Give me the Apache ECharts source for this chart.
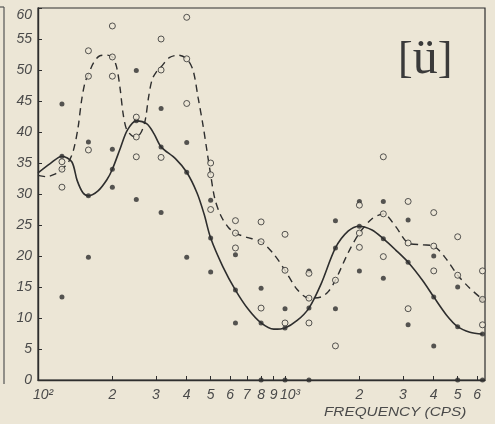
<!DOCTYPE html>
<html><head><meta charset="utf-8">
<script src="https://cdn.jsdelivr.net/npm/echarts@6/dist/echarts.min.js"></script>
<style>html,body{margin:0;padding:0;background:#ece6d6}#c{width:495px;height:424px}</style>
</head><body><div id="c"></div>
<script>
// x tick positions (Hz) and their printed labels
const tickFreqs = [100,200,300,400,500,600,700,800,900,1000,2000,3000,4000,5000,6000];
const tickLabels = ['10²','2','3','4','5','6','7','8','9','10³','2','3','4','5','6'];

// solid curve (through the filled-dot medians)
const solidCurve = [[100,33.4],[112,34.9],[125,36.1],[137,35.2],[144,32.2],[152,30.2],[160,29.7],[175,30.5],[190,32.3],[200,34.0],[215,37.3],[230,40.3],[250,41.8],[276,41.3],[295,39.7],[315,37.6],[360,35.7],[400,33.5],[440,30.2],[470,26.8],[500,22.9],[560,18.3],[630,14.5],[710,11.4],[800,9.2],[900,8.2],[1000,8.4],[1120,9.6],[1250,11.6],[1400,15.5],[1600,21.3],[1800,24.0],[2000,24.8],[2250,24.2],[2500,22.8],[2800,21.0],[3150,19.0],[3600,16.1],[4000,13.4],[4500,10.5],[5000,8.6],[5600,7.7],[6300,7.4]];

// dashed curve (through the open-circle medians)
const dashedCurve = [[100,33.0],[108,32.8],[117,33.2],[125,34.0],[133,35.2],[139,37.0],[145,40.5],[150,45.0],[155,48.0],[160,49.3],[168,51.2],[178,52.3],[190,52.4],[200,52.1],[208,50.5],[215,47.0],[221,43.0],[228,40.5],[240,39.4],[250,39.2],[262,40.0],[272,42.0],[280,45.5],[290,48.5],[305,50.0],[315,50.5],[340,52.0],[370,52.4],[400,51.8],[424,50.0],[445,45.5],[466,41.0],[485,36.5],[500,33.1],[520,29.2],[550,26.5],[590,24.6],[630,23.7],[700,23.0],[800,22.3],[900,20.3],[1000,17.7],[1120,14.6],[1250,13.2],[1400,13.4],[1500,14.3],[1600,16.1],[1800,20.5],[2000,23.7],[2250,26.0],[2500,26.8],[2800,24.8],[3150,22.1],[3600,21.8],[4000,21.6],[4500,19.5],[5000,16.9],[5600,14.8],[6300,13.0]];

// filled dots (individual measurements)
const filledDots = [
 [125,44.5],[125,36.1],[125,13.4],
 [160,38.4],[160,29.7],[160,19.8],
 [200,37.2],[200,34.0],[200,31.1],
 [250,49.9],[250,41.8],[250,29.1],
 [315,43.8],[315,37.6],[315,27.0],
 [400,38.3],[400,33.5],[400,19.8],
 [500,29.0],[500,22.9],[500,17.4],
 [630,20.2],[630,14.5],[630,9.2],
 [800,14.8],[800,9.2],[800,0],
 [1000,11.5],[1000,8.4],[1000,0],
 [1250,17.6],[1250,11.6],[1250,0],
 [1600,25.7],[1600,21.3],[1600,11.5],
 [2000,28.8],[2000,24.8],[2000,17.6],
 [2500,28.8],[2500,22.8],[2500,16.4],
 [3150,25.8],[3150,19.0],[3150,8.9],
 [4000,20.0],[4000,13.4],[4000,5.5],
 [5000,15.0],[5000,8.6],[5000,0],
 [6300,13.0],[6300,7.4],[6300,0]
];

// open circles (individual measurements)
const openDots = [
 [125,35.2],[125,34.0],[125,31.1],
 [160,53.1],[160,49.0],[160,37.1],
 [200,57.1],[200,52.1],[200,49.0],
 [250,42.4],[250,39.2],[250,36.0],
 [315,55.0],[315,50.0],[315,35.9],
 [400,58.5],[400,51.8],[400,44.6],
 [500,35.0],[500,33.1],[500,27.5],
 [630,25.7],[630,23.7],[630,21.3],
 [800,25.5],[800,22.3],[800,11.6],
 [1000,23.5],[1000,17.7],[1000,9.2],
 [1250,17.2],[1250,13.2],[1250,9.2],
 [1600,16.1],[1600,5.5],
 [2000,28.2],[2000,23.7],[2000,21.4],
 [2500,36.0],[2500,26.8],[2500,19.9],
 [3150,28.8],[3150,22.1],[3150,11.5],
 [4000,27.0],[4000,21.6],[4000,17.6],
 [5000,23.1],[5000,16.9],
 [6300,17.6],[6300,13.0],[6300,8.9]
];

const BG = '#ece6d6';
const INK = '#2e2e2e';
const TXT = '#4a4a4a';

function labelFor(v){
  for (let i=0;i<tickFreqs.length;i++){
    if (Math.abs(v-tickFreqs[i])/tickFreqs[i] < 1e-4){
      const t = tickLabels[i];
      return t.indexOf('10')===0 ? '{p|'+t+'}' : t;
    }
  }
  return '';
}
function yLabel(v){
  return v === 60 ? '{t|60}' : String(v);
}

const chart = echarts.init(document.getElementById('c'), null, {renderer:'canvas'});
chart.setOption({
  backgroundColor: BG,
  animation: false,
  grid: {left:38, right:10, top:8, bottom:44, show:true, borderColor:INK, borderWidth:1.2, backgroundColor:'transparent'},
  xAxis: {
    type:'log', logBase:10, min:100, max:6450,
    axisLine:{show:true, lineStyle:{color:INK, width:1.4}},
    axisTick:{show:true, inside:true, length:4, customValues:tickFreqs, lineStyle:{color:INK, width:1}},
    minorTick:{show:false},
    splitLine:{show:false},
    axisLabel:{
      customValues:tickFreqs, formatter:labelFor, margin:8,
      fontStyle:'italic', fontFamily:'Liberation Sans', fontSize:14, color:TXT,
      rich:{p:{fontStyle:'italic', fontFamily:'Liberation Sans', fontSize:14, color:TXT, padding:[0,0,0,10]}}
    }
  },
  yAxis: {
    type:'value', min:0, max:60, interval:5,
    axisLine:{show:true, lineStyle:{color:INK, width:1.4}},
    axisTick:{show:true, inside:true, length:4, lineStyle:{color:INK, width:1}},
    splitLine:{show:false},
    axisLabel:{margin:6, formatter:yLabel, fontStyle:'italic', fontFamily:'Liberation Sans', fontSize:14, color:TXT,
      rich:{t:{fontStyle:'italic', fontFamily:'Liberation Sans', fontSize:14, color:TXT, padding:[14,0,0,0]}}}
  },
  series: [
    {type:'line', data:solidCurve, smooth:0.3, showSymbol:false, symbol:'none',
     lineStyle:{color:INK, width:1.6}, z:2},
    {type:'line', data:dashedCurve, smooth:0.3, showSymbol:false, symbol:'none',
     lineStyle:{color:INK, width:1.4, type:[7,5]}, z:2},
    {type:'scatter', data:filledDots, symbol:'circle', symbolSize:5,
     itemStyle:{color:INK}, z:3},
    {type:'scatter', data:openDots, symbol:'circle', symbolSize:6,
     itemStyle:{color:BG, borderColor:INK, borderWidth:1}, z:4}
  ],
  graphic: [
    {type:'line', shape:{x1:4, y1:7, x2:4, y2:384}, style:{stroke:'#555', lineWidth:1.2}},
    {type:'line', shape:{x1:0, y1:7, x2:4, y2:7}, style:{stroke:'#555', lineWidth:1.2}},
    {type:'text', left:398, top:35, style:{
      text:'{b|[}{u|ü}{b|]}',
      rich:{
        b:{fontFamily:'Liberation Serif', fontSize:44, fill:'#3a3a3a', fontWeight:'normal'},
        u:{fontFamily:'Liberation Serif', fontSize:50, fill:'#3a3a3a', fontWeight:'normal'}
      }
    }},
    {type:'text', x:324, y:406, scaleX:1.18, style:{
      text:'FREQUENCY (CPS)', fontFamily:'Liberation Sans', fontStyle:'italic',
      fontSize:13, fill:TXT
    }}
  ]
});
</script></body></html>
